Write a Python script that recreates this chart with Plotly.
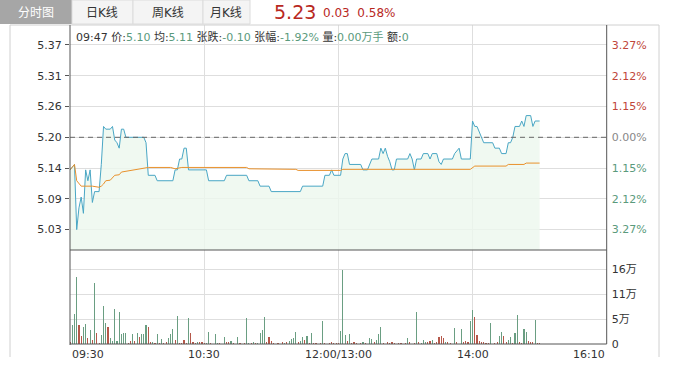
import plotly.graph_objects as go

W, H = 677, 373
def px(x): return x / W
def py(y): return 1 - y / H

# ---------------- data ----------------
prev_close = 5.20
price_step = 0.17 / 3
left_labels = ["5.03", "5.09", "5.14", "5.20", "5.26", "5.31", "5.37"]
right_labels = ["3.27%", "2.12%", "1.15%", "0.00%", "1.15%", "2.12%", "3.27%"]

price_min = [0, 2, 3, 4, 5, 6, 7, 8, 9, 10, 11, 13, 14, 15, 16, 18, 19, 20, 21, 22, 23, 24, 25, 33, 34, 35, 38, 39, 46, 47,
             48, 49, 50, 51, 52, 53, 61, 62, 69, 70, 79, 80, 84, 85, 89, 90, 103, 104, 113, 114, 116, 117, 118, 121, 122,
             123, 124, 125, 130, 131, 133, 134, 135, 138, 139, 140, 141, 142, 143, 144, 145, 146, 151, 152, 153, 154, 155,
             157, 158, 160, 161, 162, 164, 165, 166, 167, 171, 172, 173, 174, 175, 179, 180, 181, 182, 183, 184, 185, 189,
             190, 192, 193, 195, 196, 197, 198, 199, 201, 202, 203, 204, 206, 207, 208, 210]
price_val = [5.14, 5.15, 5.03, 5.07, 5.09, 5.06, 5.14, 5.12, 5.14, 5.08, 5.10, 5.10, 5.15, 5.22, 5.215, 5.215, 5.22, 5.195,
             5.19, 5.18, 5.215, 5.215, 5.20, 5.20, 5.19, 5.13, 5.13, 5.12, 5.12, 5.14,
             5.14, 5.16, 5.16, 5.18, 5.18, 5.14, 5.14, 5.12, 5.12, 5.13, 5.13, 5.12, 5.12, 5.11, 5.11, 5.10, 5.10, 5.11,
             5.11, 5.13, 5.13, 5.14, 5.13, 5.13, 5.16,
             5.17, 5.17, 5.15, 5.15, 5.14, 5.14, 5.15, 5.16, 5.16, 5.18, 5.17, 5.18, 5.165, 5.155, 5.14, 5.14, 5.16, 5.16,
             5.17, 5.16, 5.14, 5.16,
             5.16, 5.17, 5.17, 5.16, 5.17, 5.17, 5.155, 5.15, 5.16, 5.16, 5.17, 5.175, 5.18, 5.16, 5.16, 5.23, 5.22, 5.22,
             5.21, 5.20, 5.19, 5.19,
             5.18, 5.18, 5.17, 5.17, 5.19, 5.19, 5.20, 5.22, 5.22, 5.23, 5.22, 5.24, 5.24, 5.22, 5.23, 5.23]

avg_min = [0, 2, 3, 5, 10, 13, 14, 15, 16, 18, 20, 22, 23, 26, 29, 35, 45, 47, 50, 79, 80, 86, 87, 101, 102, 121, 122,
           179, 181, 195, 196, 203, 204, 210]
avg_val = [5.14, 5.15, 5.12, 5.11, 5.11, 5.108, 5.11, 5.114, 5.12, 5.121, 5.13, 5.131, 5.136, 5.138, 5.141, 5.1445,
           5.1445, 5.142, 5.1445, 5.1445, 5.142, 5.142, 5.141, 5.141, 5.139, 5.139, 5.141,
           5.141, 5.147, 5.147, 5.150, 5.150, 5.1525, 5.1525]

# volume per minute (in 万), minute 0..210
volume = [
    0.5, 4.1, 6.4, 14.4, 4.1, 1.8, 3.6, 4.3, 1.2, 3.1,
    0.9, 13.2, 2.3, 0.3, 1.9, 8.2, 4.6, 3.7, 1.2, 0.7,
    7.6, 0.7, 6.9, 2.2, 2.4, 2.4, 0.3, 0.7, 2.1, 0.7,
    2.4, 1.6, 2.1, 2.1, 4.1, 3.6, 0.5, 0.5, 0.2, 2.1,
    0.3, 1.1, 0.2, 0.5, 1.2, 2.1, 3.3, 0.9, 6.0, 0.2,
    0.2, 0.9, 0.2, 5.6, 2.3, 0.4, 0.2, 0.4, 0.5, 0.4,
    0.2, 0.2, 2.6, 0.2, 0.1, 2.1, 0.2, 0.2, 0.1, 1.4,
    0.5, 0.4, 0.7, 0.2, 0.1, 1.4, 0.2, 0.1, 0.2, 5.6,
    0.2, 0.2, 0.4, 0.2, 0.2, 2.4, 3.1, 5.8, 0.5, 1.4,
    0.7, 0.2, 0.1, 0.2, 0.1, 0.4, 0.2, 0.5, 0.7, 1.1,
    1.2, 2.6, 0.5, 0.7, 1.4, 0.9, 1.8, 0.2, 2.4, 0.2,
    0.2, 0.1, 0.2, 5.0, 0.2, 0.1, 0.2, 0.5, 0.2, 0.2,
    0.3, 2.8, 15.8, 2.0, 0.7, 2.1, 0.2, 0.4, 0.2, 0.1,
    0.2, 0.5, 0.2, 0.1, 1.3, 1.1, 0.5, 0.9, 2.1, 3.7,
    0.2, 0.1, 0.5, 0.2, 0.5, 0.2, 0.1, 0.2, 0.2, 0.1,
    0.2, 1.2, 0.4, 0.1, 0.2, 6.8, 0.4, 0.2, 0.9, 0.5,
    0.4, 0.6, 0.9, 0.2, 0.5, 1.6, 1.8, 1.3, 0.5, 0.4,
    0.2, 0.1, 3.5, 0.5, 0.1, 3.3, 0.4, 0.6, 0.5, 5.0,
    7.3, 5.8, 2.0, 0.7, 0.5, 0.5, 0.2, 0.2, 4.6, 0.1,
    0.2, 0.4, 1.8, 2.5, 1.8, 0.5, 0.9, 1.6, 0.2, 2.3,
    6.3, 0.5, 0.2, 3.3, 2.6, 0.7, 0.5, 0.4, 5.2, 0.2,
    0.2,
]
# direction per minute: g = down (green), r = up (red)
direction = (
    "rgggrrggrg"
    "rgrrgggrgg"
    "ggggggrrgr"
    "grgggrrgrg"
    "rgrrgggrgr"
    "rrrgrrrgrr"
    "rggrrggrrg"
    "rrgrggrgrg"
    "grgrggggrr"
    "rrgrgrgrgg"
    "ggrggrgrgr"
    "rgrgrgrrrr"
    "rgggrgrrrg"
    "rgrgggrggg"
    "rgrrrrgrrg"
    "rgrgrgrggg"
    "rrgrrrrrgr"
    "rggrggrrrg"
    "grrrrrrrgg"
    "rrggrrggrg"
    "grrggrrrgr"
    "r"
)
vol_ticks = [0, 16 / 3, 32 / 3, 16]
vol_labels = ["0", "5万", "11万", "16万"]

x_labels = ["09:30", "10:30", "12:00/13:00", "14:00", "16:10"]
x_label_pos = [0, 60, 120, 180, 240]

# ---------------- styling ----------------
FONT = "DejaVu Sans, Noto Sans CJK SC, sans-serif"
C_TEXT = "#333333"
C_GREEN = "#5a9a7c"
C_RED = "#c0463a"
C_GRID = "#dedede"
C_AXIS = "#555555"
minutes = list(range(len(volume)))
bar_colors = ["#6a9e82" if d == "g" else "#b5584a" for d in direction]

fig = go.Figure()

fig.add_trace(go.Scatter(x=price_min, y=price_val, mode="lines",
                         line=dict(color="#49a6c4", width=1),
                         fill="tozeroy", fillcolor="rgba(236,247,238,0.8)",
                         xaxis="x", yaxis="y", hoverinfo="skip"))
fig.add_trace(go.Scatter(x=avg_min, y=avg_val, mode="lines",
                         line=dict(color="#e8912c", width=1),
                         xaxis="x", yaxis="y", hoverinfo="skip"))
fig.add_trace(go.Bar(x=minutes, y=volume, marker=dict(color=bar_colors, line=dict(width=0)),
                     width=0.5, xaxis="x2", yaxis="y3", hoverinfo="skip"))

price_ticks = [prev_close + k * price_step for k in range(-3, 4)]
yr = [prev_close - 112.7 * price_step / 30.77, prev_close + 112.3 * price_step / 30.77]

right_text = []
for i, t in enumerate(right_labels):
    c = C_GREEN if i < 3 else ("#888888" if i == 3 else C_RED)
    right_text.append(f'<span style="color:{c}">{t}</span>')

xdom = [px(70), px(606.7)]
fig.update_layout(
    width=W, height=H, margin=dict(l=0, r=0, t=0, b=0),
    paper_bgcolor="white", plot_bgcolor="white", showlegend=False,
    font=dict(family=FONT, size=11, color=C_TEXT),
    bargap=0,
    xaxis=dict(domain=xdom, range=[0, 240], anchor="y", tickvals=[60, 120, 180],
               showticklabels=False, showgrid=True, gridcolor=C_GRID, zeroline=False,
               ticks="", automargin=False, fixedrange=True),
    yaxis=dict(domain=[py(250), py(25)], range=yr, anchor="x", tickvals=price_ticks,
               ticktext=left_labels, showgrid=True, gridcolor=C_GRID, zeroline=False,
               ticks="outside", ticklen=4, tickcolor=C_AXIS, automargin=False,
               tickfont=dict(size=11, color=C_TEXT), ticklabelstandoff=1),
    yaxis2=dict(overlaying="y", side="right", range=yr, anchor="x", tickvals=price_ticks,
                ticktext=right_text, showgrid=False, zeroline=False, ticks="",
                automargin=False, tickfont=dict(size=11), ticklabelstandoff=4),
    xaxis2=dict(domain=xdom, range=[0, 240], anchor="y3", tickvals=[60, 120, 180],
                showticklabels=False, showgrid=True, gridcolor=C_GRID, zeroline=False,
                ticks="", automargin=False),
    yaxis3=dict(domain=[py(344), py(250)], range=[0, 20.2], anchor="x2", side="right",
                tickvals=vol_ticks, ticktext=vol_labels, showgrid=True, gridcolor=C_GRID,
                zeroline=False, ticks="", automargin=False, tickfont=dict(size=11, color=C_TEXT),
                ticklabelstandoff=4),
)
# dummy trace so yaxis2 renders
fig.add_trace(go.Scatter(x=[None], y=[None], xaxis="x", yaxis="y2", hoverinfo="skip"))

shapes = []
def pline(x0, y0, x1, y1, color, width=1, dash=None):
    shapes.append(dict(type="line", xref="paper", yref="paper", x0=px(x0), y0=py(y0), x1=px(x1), y1=py(y1),
                       line=dict(color=color, width=width, dash=dash), layer="above"))

# tabs
shapes.append(dict(type="rect", xref="paper", yref="paper", x0=px(0), x1=px(72), y0=py(24), y1=py(0),
                   fillcolor="#a6a6a6", line=dict(width=0), layer="below"))
for a, b in [(72, 133), (133, 203), (203, 250)]:
    shapes.append(dict(type="rect", xref="paper", yref="paper", x0=px(a), x1=px(b), y0=py(24), y1=py(0),
                       fillcolor="#f4f4f4", line=dict(color="#dcdcdc", width=1), layer="below"))
# frame
pline(10, 25, 659, 25, "#d0d0d0")
pline(10, 25, 10, 357, "#d0d0d0")
pline(659, 25, 659, 357, "#d0d0d0")
# dashed previous close
shapes.append(dict(type="line", xref="x", yref="y", x0=0, x1=240, y0=prev_close, y1=prev_close,
                   line=dict(color="#666666", width=1, dash="5px,4px"), layer="above"))
# dark axis lines
pline(70, 25, 70, 345, C_AXIS)
pline(606.7, 25, 606.7, 344, C_AXIS)
pline(70, 250, 606.7, 250, C_AXIS)
pline(70, 344, 606.7, 344, C_AXIS)
fig.update_layout(shapes=shapes)

ann = []
for t, cx in [("分时图", 36), ("日K线", 102), ("周K线", 168), ("月K线", 226)]:
    ann.append(dict(text=t, x=px(cx), y=py(13), xref="paper", yref="paper", showarrow=False,
                    xanchor="center", yanchor="middle",
                    font=dict(size=12, color="white" if t == "分时图" else C_TEXT)))
ann.append(dict(text="5.23", x=px(272), y=py(12), xref="paper", yref="paper", showarrow=False,
                xanchor="left", yanchor="middle", font=dict(size=19, color="#b8281e")))
ann.append(dict(text="0.03  0.58%", x=px(321), y=py(13), xref="paper", yref="paper", showarrow=False,
                xanchor="left", yanchor="middle", font=dict(size=12, color="#b8281e")))
g = lambda s: f'<span style="color:{C_GREEN}">{s}</span>'
header = ("09:47 价:" + g("5.10") + " 均:" + g("5.11") + " 张跌:" + g("-0.10") + " 张幅:" + g("-1.92%")
          + " 量:" + g("0.00万手") + " 额:" + g("0"))
ann.append(dict(text=header, x=px(74), y=py(37), xref="paper", yref="paper", showarrow=False,
                xanchor="left", yanchor="middle", font=dict(size=11, color=C_TEXT)))
for t, xp in zip(x_labels, x_label_pos):
    anchor = "left" if xp == 0 else ("right" if xp == 240 else "center")
    ann.append(dict(text=t, x=xp, y=py(354), xref="x2", yref="paper", showarrow=False,
                    xanchor=anchor, yanchor="middle", font=dict(size=11, color=C_TEXT)))
fig.update_layout(annotations=ann)

fig.write_html("out.html", config={"displayModeBar": False, "staticPlot": True},
               post_script="document.body.style.margin='0px';document.body.style.padding='0px';")
